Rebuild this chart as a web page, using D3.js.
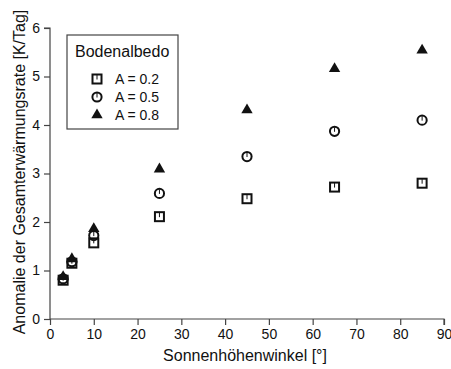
<!DOCTYPE html>
<html><head><meta charset="utf-8">
<script src="https://cdn.jsdelivr.net/npm/d3@7"></script>
<style>body{margin:0;background:#fff}svg{display:block}text{font-family:"Liberation Sans",Arial,sans-serif;fill:#111}</style>
</head><body><svg id="c" width="451" height="369"></svg>
<script>
const angles = [3, 5, 10, 25, 45, 65, 85];
const albedo02 = [0.80, 1.15, 1.57, 2.11, 2.48, 2.72, 2.80];
const albedo05 = [0.83, 1.18, 1.72, 2.59, 3.35, 3.87, 4.10];
const albedo08 = [0.87, 1.24, 1.86, 3.09, 4.31, 5.16, 5.54];
const seriesNames = ["A = 0.2", "A = 0.5", "A = 0.8"];
const xTicks = [0,10,20,30,40,50,60,70,80,90];
const yTicks = [0,1,2,3,4,5,6];

const svg = d3.select("#c");
const x = d3.scaleLinear().domain([0,90]).range([50,444]);
const y = d3.scaleLinear().domain([0,6]).range([319,28]);

const xa = svg.append("g").attr("transform","translate(0,319)")
  .call(d3.axisBottom(x).tickValues(xTicks).tickFormat(d3.format("d")).tickSize(6).tickPadding(4));
const ya = svg.append("g").attr("transform","translate(50,0)")
  .call(d3.axisLeft(y).tickValues(yTicks).tickFormat(d3.format("d")).tickSize(6).tickPadding(4));
[xa,ya].forEach(a=>{
  a.select(".domain").attr("stroke","#444").attr("stroke-width",1.2);
  a.selectAll(".tick line").attr("stroke","#444").attr("stroke-width",1.2);
  a.selectAll(".tick text").style("font-size","14px").attr("fill","#111")
   .style("font-family","'Liberation Sans',Arial,sans-serif");
});
ya.select(".domain").attr("d","M0,319V28H-6");
xa.select(".domain").attr("d","M50,0H444V6");

svg.append("text").attr("x",245).attr("y",361).attr("text-anchor","middle")
  .style("font-size","16px").text("Sonnenhöhenwinkel [°]");
svg.append("text").attr("transform","translate(25,172) rotate(-90)").attr("text-anchor","middle")
  .style("font-size","16px").text("Anomalie der Gesamterwärmungsrate [K/Tag]");

function marker(g, k){
  if(k===0){
    g.append("rect").attr("x",-4.5).attr("y",-4.5).attr("width",9).attr("height",9)
      .attr("fill","none").attr("stroke","#111").attr("stroke-width",2);
    g.append("line").attr("x1",0).attr("x2",0).attr("y1",-4).attr("y2",0.5).attr("stroke","#111").attr("stroke-width",1);
  } else if(k===1){
    g.append("circle").attr("r",4.6).attr("fill","none").attr("stroke","#111").attr("stroke-width",2);
    g.append("line").attr("x1",0).attr("x2",0).attr("y1",-4).attr("y2",0.5).attr("stroke","#111").attr("stroke-width",1);
  } else {
    g.append("path").attr("d",d3.symbol(d3.symbolTriangle,56)()).attr("fill","#111");
  }
}
const all=[albedo02,albedo05,albedo08];
all.forEach((vals,k)=>{
  vals.forEach((v,i)=>{
    const g=svg.append("g").attr("transform",`translate(${x(angles[i])},${y(v)})`);
    marker(g,k);
  });
});

const lg=svg.append("g");
lg.append("rect").attr("x",67).attr("y",35).attr("width",111).attr("height",94)
  .attr("fill","#fff").attr("stroke","#444").attr("stroke-width",1.2);
lg.append("text").attr("x",75).attr("y",57).style("font-size","16px").text("Bodenalbedo");
seriesNames.forEach((n,k)=>{
  const cy=79+k*18;
  const g=lg.append("g").attr("transform",`translate(97,${cy})`);
  marker(g,k);
  lg.append("text").attr("x",115).attr("y",cy+5).style("font-size","14px").text(n);
});
</script></body></html>
